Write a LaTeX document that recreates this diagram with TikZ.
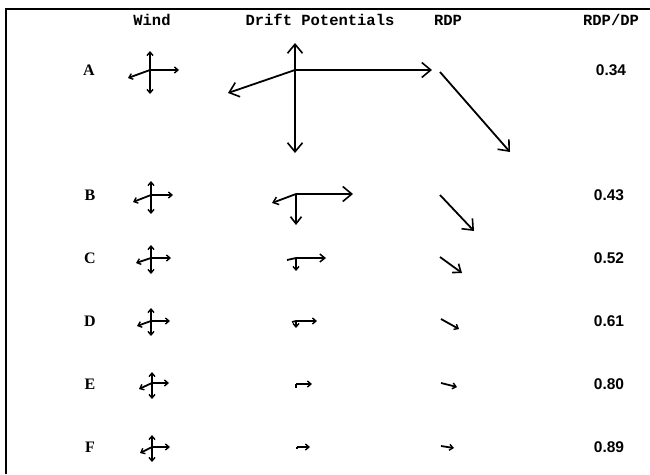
\documentclass[tikz,border=0pt]{standalone}
\usepackage{fontspec}
\setmainfont{Liberation Serif}
\newfontfamily\hdrfont{Liberation Mono}
\newfontfamily\numfont{Liberation Sans}
\usetikzlibrary{arrows.meta}
\tikzset{
  frameline/.style={line width=1.4pt},
  vec/.style={line width=1.8pt},
  bigtip/.style={vec,-{Straight Barb[length=9pt,width=15pt,line width=1.6pt]}},
  midtip/.style={vec,-{Straight Barb[length=7pt,width=11pt,line width=1.6pt]}},
  smalltip/.style={vec,-{Straight Barb[length=5pt,width=8pt,line width=1.5pt]}},
  tinytip/.style={vec,-{Straight Barb[length=3.5pt,width=6pt,line width=1.4pt]}},
  hdr/.style={font=\hdrfont\bfseries\fontsize{15.5}{18}\selectfont,inner sep=0pt},
  rowlab/.style={font=\bfseries\fontsize{16}{18}\selectfont,inner sep=0pt},
  val/.style={font=\numfont\bfseries\fontsize{15.5}{18}\selectfont,inner sep=0pt},
}
\newcommand\windcross[8]{%
  \coordinate (#1) at (#2,#3);
  \draw[tinytip] (#1) -- ++(0,-#4);
  \draw[tinytip] (#1) -- ++(0,#5);
  \draw[tinytip] (#1) -- ++(#6,0);
  \draw[tinytip] (#1) -- ++(#7,#8);
}
\begin{document}
\begin{tikzpicture}[x=1pt,y=-1pt]
\useasboundingbox (0,0) rectangle (650,474);
% frame
\draw[frameline] (6,474) -- (6,9) -- (650,9);
% headers
\node[hdr] (hWind) at (152,20) {Wind};
\node[hdr] (hDP) at (320,20) {Drift Potentials};
\node[hdr] (hRDP) at (448,20) {RDP};
\node[hdr] (hRatio) at (611,20) {RDP/DP};
% row labels
\node[rowlab] (lA) at (89,70) {A};
\node[rowlab] (lB) at (90,195) {B};
\node[rowlab] (lC) at (90,258) {C};
\node[rowlab] (lD) at (90,321) {D};
\node[rowlab] (lE) at (90,384) {E};
\node[rowlab] (lF) at (90,447) {F};
% values
\node[val] (vA) at (611,70) {0.34};
\node[val] (vB) at (609,195) {0.43};
\node[val] (vC) at (609,258) {0.52};
\node[val] (vD) at (609,321) {0.61};
\node[val] (vE) at (609,384) {0.80};
\node[val] (vF) at (609,447) {0.89};
% wind roses
\windcross{wA}{150}{70}{19}{24}{29}{-22}{8}
\windcross{wB}{151}{195}{14}{19}{22}{-18}{7}
\windcross{wC}{151}{258}{13}{16}{20}{-15}{5}
\windcross{wD}{151}{321}{13}{15}{19}{-14}{5}
\windcross{wE}{152}{383}{11}{16}{17}{-13}{6}
\windcross{wF}{152}{447}{12}{15}{18}{-12}{6}
% drift potentials
\coordinate (dA) at (295,70);
\draw[bigtip] (dA) -- ++(0,-27);
\draw[bigtip] (dA) -- ++(0,83);
\draw[bigtip] (dA) -- ++(137,0);
\draw[bigtip] (dA) -- ++(-67,23);
\coordinate (dB) at (296,194);
\draw[bigtip] (dB) -- ++(57,0);
\draw[midtip] (dB) -- ++(0,31);
\draw[smalltip] (dB) -- ++(-24,9);
\coordinate (dC) at (296,258);
\draw[smalltip] (dC) -- ++(30,0);
\draw[tinytip] (dC) -- ++(0,13);
\draw[vec] (dC) -- ++(-9,2);
\coordinate (dD) at (296,321);
\draw[tinytip] (dD) -- ++(21,0);
\draw[tinytip] (dD) -- ++(0,7);
\draw[vec] (dD) -- ++(-4,1);
\coordinate (dE) at (296,384);
\draw[tinytip] (dE) -- ++(16,0);
\draw[vec] (dE) -- ++(0,4);
\coordinate (dF) at (297,447);
\draw[tinytip] (dF) -- ++(13,0);
\draw[vec] (dF) -- ++(0,2);
% resultant drift potentials
\coordinate (rA0) at (440,72);  \coordinate (rA1) at (510,152);
\coordinate (rB0) at (440,195); \coordinate (rB1) at (474,231);
\coordinate (rC0) at (440,257); \coordinate (rC1) at (462,273);
\coordinate (rD0) at (441,319); \coordinate (rD1) at (459,329);
\coordinate (rE0) at (441,383); \coordinate (rE1) at (457,387);
\coordinate (rF0) at (441,446); \coordinate (rF1) at (454,448);
\draw[bigtip] (rA0) -- (rA1);
\draw[bigtip] (rB0) -- (rB1);
\draw[midtip] (rC0) -- (rC1);
\draw[tinytip] (rD0) -- (rD1);
\draw[tinytip] (rE0) -- (rE1);
\draw[tinytip] (rF0) -- (rF1);
\end{tikzpicture}
\end{document}
